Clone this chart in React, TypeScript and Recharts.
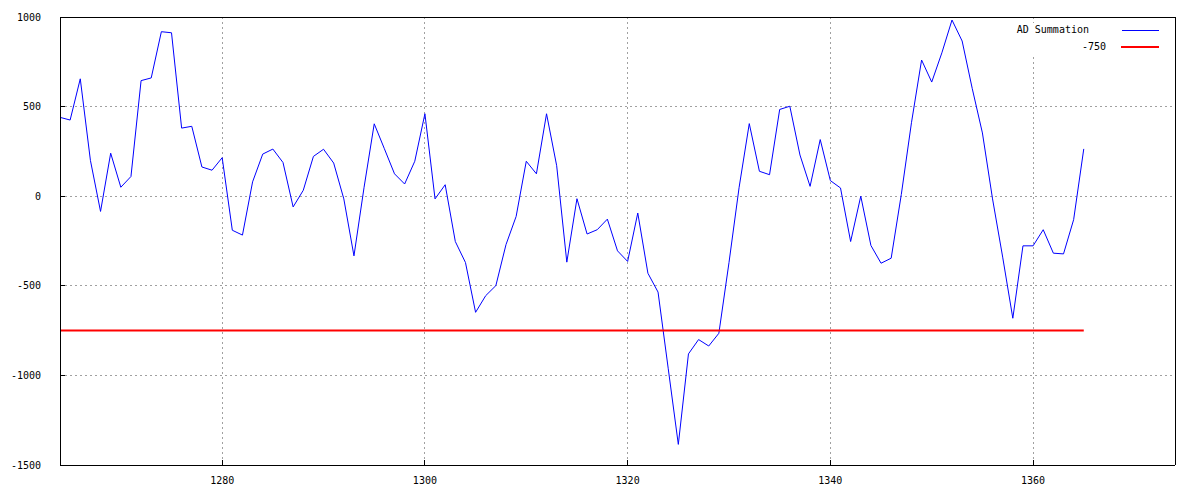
import { CartesianGrid, Line, LineChart, XAxis, YAxis } from "recharts";

const bars = [
  1264, 1265, 1266, 1267, 1268, 1269, 1270, 1271, 1272, 1273, 1274, 1275, 1276,
  1277, 1278, 1279, 1280, 1281, 1282, 1283, 1284, 1285, 1286, 1287, 1288, 1289,
  1290, 1291, 1292, 1293, 1294, 1295, 1296, 1297, 1298, 1299, 1300, 1301, 1302,
  1303, 1304, 1305, 1306, 1307, 1308, 1309, 1310, 1311, 1312, 1313, 1314, 1315,
  1316, 1317, 1318, 1319, 1320, 1321, 1322, 1323, 1324, 1325, 1326, 1327, 1328,
  1329, 1330, 1331, 1332, 1333, 1334, 1335, 1336, 1337, 1338, 1339, 1340, 1341,
  1342, 1343, 1344, 1345, 1346, 1347, 1348, 1349, 1350, 1351, 1352, 1353, 1354,
  1355, 1356, 1357, 1358, 1359, 1360, 1361, 1362, 1363, 1364, 1365,
];

const adSummation = [
  440, 425, 655, 200, -85, 240, 50, 110, 645, 660, 918, 912, 380,
  390, 163, 145, 215, -190, -217, 80, 235, 263, 188, -60, 33, 222,
  262, 185, -15, -333, 50, 404, 265, 125, 68, 195, 460, -15, 64,
  -253, -370, -648, -555, -499, -270, -113, 195, 125, 460, 170, -368, -14,
  -211, -187, -128, -305, -364, -94, -430, -535, -960, -1385, -880, -800, -836,
  -765, -370, 50, 405, 139, 120, 484, 502, 230, 55, 316, 87, 46,
  -253, 0, -275, -374, -346, 10, 410, 760, 637, 800, 983, 866, 600,
  353, -15, -340, -681, -277, -277, -187, -318, -322, -131, 264,
];

const THRESHOLD = -750;

const xTicks = [1280, 1300, 1320, 1340, 1360];
const yTicks = [-1500, -1000, -500, 0, 500, 1000];

const data = bars.map((x, i) => ({ x, ad: adSummation[i], level: THRESHOLD }));

const FONT = "'DejaVu Sans Mono', monospace";
const tickStyle = { fontSize: 10, fill: "#000", fontFamily: FONT };
const black = { stroke: "#000" };

export default function App() {
  return (
    <div
      style={{
        position: "absolute",
        left: 0,
        top: 0,
        width: 1200,
        height: 500,
        background: "#fff",
      }}
    >
      <style>{`.recharts-cartesian-axis line, .recharts-cartesian-grid line { shape-rendering: crispEdges; }`}</style>
      <LineChart
        width={1200}
        height={500}
        data={data}
        margin={{ top: 16, right: 24, bottom: 0, left: 0 }}
      >
        <CartesianGrid
          stroke="#a0a0a0"
          strokeDasharray="2 3"
          verticalValues={xTicks}
          horizontalValues={[-1000, -500, 0, 500]}
        />
        <XAxis
          dataKey="x"
          type="number"
          domain={[1264, 1374]}
          ticks={xTicks}
          height={35}
          tick={tickStyle}
          tickSize={-5}
          tickMargin={17}
          axisLine={black}
          tickLine={black}
        />
        <XAxis
          xAxisId="top"
          orientation="top"
          dataKey="x"
          type="number"
          domain={[1264, 1374]}
          ticks={xTicks}
          height={1}
          tick={false}
          tickSize={-5}
          axisLine={black}
          tickLine={black}
        />
        <YAxis
          type="number"
          domain={[-1500, 1000]}
          ticks={yTicks}
          width={60}
          tick={tickStyle}
          tickSize={-5}
          tickMargin={24}
          axisLine={black}
          tickLine={black}
        />
        <YAxis
          yAxisId="right"
          orientation="right"
          type="number"
          domain={[-1500, 1000]}
          ticks={yTicks}
          width={1}
          tick={false}
          tickSize={-5}
          axisLine={black}
          tickLine={black}
        />
        {/* invisible series so the mirrored top/right axes get drawn */}
        <Line
          xAxisId="top"
          yAxisId="right"
          dataKey="ad"
          stroke="none"
          dot={false}
          activeDot={false}
          legendType="none"
          isAnimationActive={false}
        />
        <Line
          dataKey="ad"
          stroke="#0000ff"
          strokeWidth={1}
          dot={false}
          activeDot={false}
          isAnimationActive={false}
        />
        <Line
          dataKey="level"
          stroke="#ff0000"
          strokeWidth={2}
          dot={false}
          activeDot={false}
          isAnimationActive={false}
        />
      </LineChart>
      <div
        style={{
          position: "absolute",
          left: 1008,
          top: 23,
          width: 162,
          height: 33,
          background: "#fff",
          fontFamily: FONT,
          fontSize: 10,
          lineHeight: "10px",
          color: "#000",
        }}
      >
        <span style={{ position: "absolute", right: 1170 - 1089, top: 2, whiteSpace: "nowrap" }}>
          AD Summation
        </span>
        <div style={{ position: "absolute", left: 114, top: 7, width: 37, height: 1, background: "#0000ff" }} />
        <span style={{ position: "absolute", right: 1170 - 1106, top: 19, whiteSpace: "nowrap" }}>
          {String(THRESHOLD)}
        </span>
        <div style={{ position: "absolute", left: 113, top: 23, width: 38, height: 2, background: "#ff0000" }} />
      </div>
    </div>
  );
}
